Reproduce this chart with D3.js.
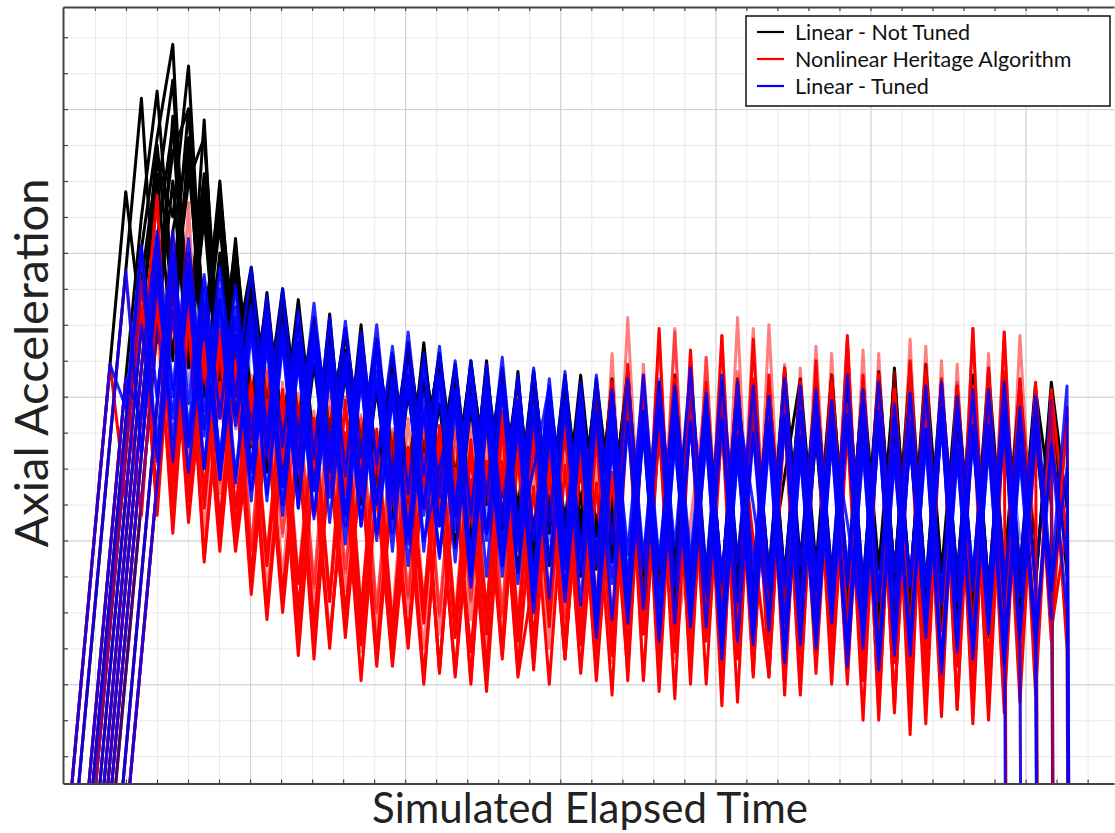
<!DOCTYPE html>
<html><head><meta charset="utf-8">
<script src="https://cdn.jsdelivr.net/npm/d3@7"></script>
<style>
html,body{margin:0;padding:0;background:#fff;}
svg{display:block;}
</style></head>
<body>
<svg id="chart" width="1115" height="833"></svg>
<script>
// ---------- data (values in tenths of a grid division; samples every sampleDt) ----------
const sampleT0 = -1.03, sampleDt = 0.5057;
const runStart = [0,1,1,1,2,2,2,2,3,3,3,4];

const blackRuns = [
[-135,-87,-39,9,57,20,70,25,65,14,52,6,33,-8,27,-11,20,-9,19,-16,15,-19,15,-17,12,-27,10,-24,7,-35,7,-33,3,-36,5,-32,7,-52,4,-48,7,-66,3,-51,0,-49,5,-70,4,-52,8,-54,6,-50,9,-55,2,-51,5,-53,3],
[-108,-60,-12,35,83,15,78,18,60,2,44,-10,29,-13,15,-20,12,-22,20,-25,12,-26,15,-29,3,-34,10,-37,7,-44,-2,-41,4,-45,5,-62,-1,-57,-3,-60,0,-58,-5,-61,-2,-56,-4,-62,1,-57,-3,-63,8,-60,-4,-64,-2,-59,-6,-62,-4],
[-139,-91,-43,5,50,85,30,80,20,57,12,36,-2,30,-6,22,-10,19,-14,14,-15,14,-18,12,-22,8,-26,2,-31,7,-34,3,-30,2,-33,7,-50,4,-47,7,-51,3,-46,0,-50,-22,5,-47,6,-52,4,-48,5,-53,9,-49,3,-52,7,-48,4,-53],
[-151,-103,-55,-7,41,72,98,12,77,-2,38,-14,20,-20,12,-21,23,-27,8,-24,4,-32,5,-29,0,-40,-4,-37,-5,-47,-2,-45,-8,-48,-4,-60,-3,-64,-3,-61,-8,-65,-4,-60,-7,-63,-3,-64,-9,-60,-6,-66,-5,-62,-10,-65,-7,-61,-4,-66,-9,-40,-999],
[-112,-64,-16,32,65,50,92,15,60,5,30,-8,25,-13,17,-16,13,-19,16,-23,12,-20,8,-31,5,-28,2,-39,4,-36,0,-40,1,-37,3,-56,0,-52,4,-55,-1,-53,3,-57,1,-52,5,-55,0,-58,2,-54,-2,-57,1,-55,3,-58,-1,-54,2,-30,-999],
[-125,-76,-28,20,62,10,72,0,40,-5,24,-21,18,-26,9,-23,6,-30,2,-34,1,-31,-2,-42,-3,-38,-6,-49,-6,-47,-10,-50,-7,-46,-5,-66,-10,-62,-6,-65,-9,-60,-4,-66,-7,-63,-11,-65,-5,-67,-8,-64,-12,-68,-6,-65,-9,-67,-8,-63,-12,-50],
[-137,-89,-40,8,56,88,22,62,8,42,0,26,-10,27,-13,18,-15,14,-18,10,-21,11,-19,9,-29,7,-27,5,-38,2,-35,6,-37,3,-54,2,-50,6,-53,1,-51,5,-55,3,-50,2,-54,6,-51,4,-56,0,-52,5,-57,1,-53,3,-55,0,-52,4,-31],
[-149,-101,-52,-4,44,75,10,55,3,36,-6,22,-16,15,-19,16,-20,11,-23,7,-28,4,-25,3,-36,0,-33,-1,-44,1,-40,-22,-4,-43,0,-60,0,-56,-4,-59,1,-57,-3,-61,0,-55,-5,-59,2,-57,-2,-62,-6,-58,-1,-61,-3,-59,-5,-62,-2,-58,-6],
[-113,-65,-16,32,68,80,18,54,11,34,-3,28,-8,21,-11,17,-12,16,-18,13,-15,11,-26,9,-23,8,-34,5,-31,6,-35,3,-32,5,-51,3,-47,6,-50,4,-48,2,-52,8,-46,4,-50,5,-53,7,-49,3,-52,4,-50,6,-54,2,-48,4],
[-125,-77,-29,19,60,8,50,-2,33,-12,18,-18,10,-22,9,-26,6,-24,2,-30,4,-31,0,-38,-3,-36,-4,-46,-7,-43,-2,-47,-6,-63,-3,-60,-7,-64,-2,-59,-6,-62,-4,-65,-8,-60,-3,-63,-5,-65,-9,-61,-4,-64,-6,-62,-10,-65,-5],
[-147,-99,-50,-2,46,70,12,48,0,28,-13,22,-17,15,-14,10,-21,13,-25,6,-22,9,-33,2,-30,5,-41,2,-38,-3,-42,1,-39,2,-58,-2,-54,3,-57,-1,-55,2,-59,-1,-54,1,-57,3,-60,0,-56,-4,-59,1,-57,-3,-60,0,-55,-4],
[-120,-72,-24,24,60,72,10,40,-4,25,-7,20,-14,17,-18,13,-16,10,-22,12,-20,6,-30,5,-28,4,-38,1,-36,2,-39,4,-55,1,-51,5,-54,2,-52,4,-56,2,-51,3,-55,5,-60,3,-57,-1,-53,2,-56,0,-54,3,-57,-1,-52,2,-50]
];

const redRuns = [
[-135,-87,-39,9,-28,25,-33,27,-35,10,-43,5,-55,-8,-60,-14,-68,-19,-64,-21,-75,-25,-70,-20,-76,-24,-71,-22,-73,-16,-76,-20,-72,-15,-77,2,-79,-4,-74,3,-80,-2,-75,1,-40,-78,-3,-81,2,-76,-2,-79,3,-86,-2,-82,4,-87,1,-80,-3,-999],
[-108,-60,-12,35,-15,45,-20,54,-28,20,-25,6,-44,4,-50,-4,-55,0,-58,-11,-62,-6,-57,-10,-61,-8,-60,-6,-62,-2,-58,-7,-63,0,-65,22,-60,15,-66,10,-61,17,-67,19,-62,9,-65,14,-60,16,-72,12,-68,16,-73,10,-71,19,-67,18,-72,-999],
[-139,-91,-43,5,-33,27,-38,22,-46,3,-43,-8,-62,-13,-72,-18,-68,-22,-79,-25,-75,-30,-80,-24,-78,-29,-82,-20,-76,-25,-80,-19,-77,-24,-83,-2,-79,-8,-84,-3,-80,-7,-85,-1,-78,-6,-83,-4,-80,-9,-90,-2,-86,-6,-91,0,-87,-5,-90,-3,-85,-8,-999],
[-151,-103,-55,-7,41,-19,36,-24,21,-34,15,-46,2,-50,-4,-58,-9,-54,-11,-65,-15,-60,-10,-66,-14,-62,-12,-66,-5,-61,-10,-67,-6,-63,12,-69,6,-64,18,-70,11,-66,22,-71,20,-65,8,-68,12,-70,13,-76,7,-72,14,-77,9,-73,12,-75,17,-60,-999],
[-112,-64,-16,32,-30,30,-26,13,-40,9,-52,-1,-57,-12,-73,-15,-67,-18,-72,-22,-68,-17,-76,-21,-80,-19,-70,-13,-74,-18,-69,-12,-73,4,-72,-1,-77,5,-70,0,-86,3,-75,-2,-78,4,-73,1,-77,5,-90,0,-94,6,-79,2,-91,4,-83,1,-78,-5,-999],
[-125,-76,-28,20,-17,40,-12,24,-27,21,-42,8,-38,-2,-52,2,-48,-5,-59,-9,-55,-4,-60,-8,-56,-6,-60,0,-56,-4,-61,1,-57,3,-63,9,-58,6,-64,1,-60,7,-65,4,-59,2,-63,6,-62,4,-70,2,-66,9,-71,3,-67,8,-70,5,-64,-20],
[-137,-89,-40,8,56,-31,25,-45,4,-40,-6,-59,-11,-66,-20,-70,-16,-69,-27,-73,-22,-78,-26,-77,-23,-76,-18,-78,-50,-22,-73,-17,-79,-21,-77,0,-82,-5,-76,-1,-81,-4,-78,1,-83,-2,-77,-6,-80,0,-88,-1,-84,-4,-89,2,-85,-3,-88,0,-83,-4,-70,-999],
[-149,-101,-52,-4,44,-25,34,-31,15,-36,0,-47,-2,-60,-6,-56,-10,-64,-13,-68,-17,-63,-12,-67,-16,-66,-8,-68,-12,-64,-7,-69,-11,-72,9,-66,19,-71,13,-68,17,-73,16,-67,8,-72,10,-70,15,-78,6,-74,10,-79,5,-75,19,-78,18,-72,4,-65,-35],
[-113,-65,-16,32,-21,40,-27,18,-31,4,-45,2,-52,-7,-57,-1,-60,-9,-64,-14,-58,-8,-63,-12,-60,-4,-64,-8,-60,-3,-65,-7,-67,6,-62,1,-68,4,-64,0,-66,5,-69,2,-63,4,-67,17,-71,2,-88,6,-74,1,-73,3,-88,7,-70,0,-68,-3,-999],
[-125,-77,-29,19,-32,28,-38,12,-42,-3,-54,-8,-63,-13,-67,-18,-71,-20,-74,-25,-70,-19,-77,-23,-71,-15,-75,-19,-70,-14,-76,-18,-74,3,-79,-2,-73,-35,2,-78,-1,-75,4,-80,-3,-74,1,-77,3,-85,1,-81,-3,-86,2,-82,-4,-85,0],
[-147,-99,-50,-2,46,-18,26,-24,21,-43,7,-39,1,-53,-3,-49,-6,-60,-10,-56,-5,-61,-9,-57,-7,-61,-1,-57,-5,-62,0,-58,2,-64,6,-60,19,-65,11,-61,5,-66,2,-63,0,-60,3,-64,3,-71,2,-67,6,-72,4,-66,1,-70,2,-40],
[-120,-72,-24,24,-29,15,-35,10,-50,-4,-55,-10,-64,-14,-60,-17,-71,-21,-67,-16,-77,-20,-79,-18,-72,-12,-68,-16,-73,-11,-69,1,-75,5,-71,0,-76,4,-72,2,-77,6,-70,1,-74,4,-76,6,-82,2,-78,7,-83,3,-79,8,-81,5,-77,2,-40,-999]
];

const blueRuns = [
[-135,-87,-39,9,-3,42,0,40,-2,34,-6,31,-12,28,-14,24,-17,22,-22,18,-19,14,-27,12,-28,10,-33,9,-35,6,-40,5,-41,4,-47,2,-44,6,-48,3,-46,1,-52,4,-49,0,-53,3,-51,-1,-48,2,-55,-2,-52,3,-56,0,-50,2,-48,-999],
[-108,-60,-12,35,-16,36,-12,30,-20,27,-22,20,-27,16,-31,15,-28,11,-36,7,-38,5,-43,2,-46,0,-50,3,-52,-4,-56,-1,-58,-5,-62,-8,-59,-3,-63,-7,-64,-6,-68,-10,-65,-5,-69,-9,-63,-7,-70,-8,-72,-11,-67,-6,-71,-10,-66,-5,-70,-999],
[-139,-91,-43,5,-6,38,0,35,-9,30,-5,25,-15,20,-17,19,-21,12,-24,16,-27,9,-31,6,-33,7,-38,2,-40,-20,3,-44,-1,-45,0,-50,-4,-46,1,-49,-2,-51,-3,-55,-8,-50,-4,-54,-7,-53,-2,-57,-6,-53,-9,-58,-4,-54,-8,-56,-3,-52,-999],
[-151,-103,-55,-7,41,-18,30,-14,21,-23,17,-26,15,-30,10,-33,6,-36,5,-40,0,-41,-4,-45,-3,-50,-7,-47,-8,-57,-11,-54,-10,-64,-14,-60,-9,-66,-13,-61,-12,-70,-17,-65,-13,-71,-16,-66,-12,-69,-15,-73,-18,-68,-13,-74,-17,-69,-14,-72,-15,-66,-999],
[-112,-64,-16,32,-1,39,3,33,-6,28,-9,25,-13,22,-14,19,-21,17,-18,12,-27,9,-24,8,-34,6,-31,5,-39,2,-36,1,-46,-2,-42,3,-45,-1,-43,-1,-50,-5,-47,0,-52,-4,-48,-1,-51,-3,-54,-6,-50,-1,-55,-5,-49,-2,-53,-6,-51,-1,-999],
[-125,-76,-28,20,-13,36,-9,30,-18,25,-20,23,-25,18,-26,14,-33,13,-30,6,-39,9,-36,2,-45,5,-42,-1,-51,2,-48,-2,-59,0,-55,-5,-58,-1,-56,-4,-64,-2,-30,-61,-7,-65,-3,-60,-6,-66,-4,-68,-7,-63,-3,-69,-8,-64,-4,-67,-5,-62],
[-137,-89,-40,8,46,2,44,-4,36,0,36,-10,30,-12,26,-15,21,-17,20,-24,18,-22,14,-31,10,-28,11,-37,8,-35,7,-44,6,-41,5,-45,4,-42,8,-49,6,-46,3,-50,5,-47,2,-49,6,-52,4,-49,1,-53,4,-50,2,-54,4,-48,0,-50,3,-999],
[-149,-101,-52,-4,44,-18,33,-20,24,-24,18,-29,15,-31,13,-35,8,-36,5,-43,4,-40,-20,0,-50,1,-47,-3,-56,-3,-54,-7,-63,-6,-60,-10,-65,-7,-61,-5,-69,-11,-66,-8,-71,-12,-67,-9,-70,-7,-72,-13,-69,-9,-74,-12,-70,-8,-73,-10,-68,-14,-60],
[-113,-65,-16,32,-6,37,-11,27,-8,21,-17,18,-22,16,-19,9,-28,11,-30,3,-33,6,-37,0,-40,3,-43,0,-46,-3,-49,-4,-52,-7,-48,-2,-53,-8,-54,-7,-57,-11,-53,-6,-58,-10,-55,-5,-59,-8,-56,-12,-61,-7,-57,-11,-60,-6,-55,-9,-54,-20,-999],
[-125,-77,-29,19,-4,40,-6,34,-9,26,-12,24,-19,21,-16,18,-25,15,-27,13,-30,10,-36,8,-34,7,-42,6,-40,4,-47,3,-50,0,-46,5,-49,1,-55,0,-51,-3,-54,2,-52,-2,-56,0,-55,-4,-58,1,-53,-3,-57,0,-54,-1,-40],
[-147,-99,-50,-2,46,-13,26,-17,22,-21,19,-25,14,-26,11,-33,9,-30,4,-38,1,-36,2,-45,-2,-42,-3,-52,-6,-48,-5,-59,-9,-55,-4,-58,-8,-56,-9,-64,-12,-60,-7,-63,-11,-61,-8,-35,-65,-10,-66,-13,-63,-8,-67,-12,-62,-9,-66,-12],
[-120,-72,-24,24,-21,22,-23,17,-29,15,-33,10,-34,7,-41,5,-38,0,-47,-3,-44,-2,-53,-6,-50,-7,-60,-9,-57,-10,-67,-13,-63,-8,-68,-12,-64,-11,-73,-15,-69,-10,-74,-16,-70,-12,-75,-13,-76,-16,-72,-11,-77,-15,-73,-12,-75,-17,-70,-13,-45,-999]
];

const blackOpacity = [1,1,1,1,1,1,1,1,1,1,1,1];
const redOpacity   = [1,0.5,1,0.5,1,0.5,1,1,1,0.5,0.5,1];
const blueOpacity  = [0.85,0.85,0.85,0.85,0.45,0.85,0.85,0.85,0.85,0.45,0.85,0.85];

const seriesNames  = ["Linear - Not Tuned", "Nonlinear Heritage Algorithm", "Linear - Tuned"];
const seriesColors = ["#000000", "#ff0000", "#0000ff"];

const xMinorTicks = [0,1,2,3,4,5,6,7,8,9,10,11,12,13,14,15,16,17,18,19,20,21,22,23,24,25,26,27,28,29,30,31,32];
const xMajorTicks = [5,10,15,20,25,30];
const yMinorTicks = [-100,-90,-80,-70,-60,-50,-40,-30,-20,-10,0,10,20,30,40,50,60,70,80,90,100];
const yMajorTicks = [-80,-40,0,40,80];

const xTitle = "Simulated Elapsed Time";
const yTitle = "Axial Acceleration";

// ---------- layout ----------
const Wsvg = 1115, Hsvg = 833;
const margin = {left: 63, top: 7, right: 1, bottom: 49.5};
const W = Wsvg - margin.left - margin.right;
const H = Hsvg - margin.top - margin.bottom;

const svg = d3.select("#chart");
svg.append("rect").attr("width", Wsvg).attr("height", Hsvg).attr("fill", "#fff");

const x = d3.scaleLinear().domain([-1.03, 32.85]).range([0, W]);
const y = d3.scaleLinear().domain([-107.6, 108.4]).range([H, 0]);

const g = svg.append("g").attr("transform", `translate(${margin.left},${margin.top})`);

// grid
function grid(axis, cls, color, tr) {
  const gg = g.append("g").attr("class", cls).attr("transform", tr || null).call(axis);
  gg.select(".domain").remove();
  gg.selectAll(".tick line").attr("stroke", color).attr("stroke-width", 1);
}
grid(d3.axisBottom(x).tickValues(xMinorTicks).tickSize(-H).tickFormat(""), "gx", "#e9e9e9", `translate(0,${H})`);
grid(d3.axisLeft(y).tickValues(yMinorTicks).tickSize(-W).tickFormat(""), "gy", "#e9e9e9");
grid(d3.axisBottom(x).tickValues(xMajorTicks).tickSize(-H).tickFormat(""), "gxM", "#d0d0d0", `translate(0,${H})`);
grid(d3.axisLeft(y).tickValues(yMajorTicks).tickSize(-W).tickFormat(""), "gyM", "#d0d0d0");

// lines
svg.append("defs").append("clipPath").attr("id", "plotclip")
  .append("rect").attr("x", 0).attr("y", 0).attr("width", W).attr("height", H);

const line = d3.line().x(d => x(d.t)).y(d => y(d.v));
const plot = g.append("g").attr("clip-path", "url(#plotclip)");

function drawSeries(runs, color, opac, cls) {
  const data = runs.map((vals, r) => ({
    r, pts: vals.map((v, k) => ({t: sampleT0 + (runStart[r] + k) * sampleDt, v}))
  }));
  plot.append("g").attr("class", cls).selectAll("path").data(data).join("path")
    .attr("d", d => line(d.pts))
    .attr("fill", "none")
    .attr("stroke", color)
    .attr("stroke-opacity", d => opac[d.r])
    .attr("stroke-width", 3)
    .attr("stroke-linejoin", "round");
}
drawSeries(blackRuns, seriesColors[0], blackOpacity, "black-series");
drawSeries(redRuns, seriesColors[1], redOpacity, "red-series");
drawSeries(blueRuns, seriesColors[2], blueOpacity, "blue-series");

// axes (frame + small inward ticks, no labels)
const axColor = "#444";
function frame(axis, tr) {
  const a = g.append("g").attr("transform", tr || null).call(axis);
  a.select(".domain").attr("stroke", axColor).attr("stroke-width", 2);
  a.selectAll(".tick line").attr("stroke", axColor).attr("stroke-width", 1.2);
  a.selectAll(".tick text").remove();
}
frame(d3.axisBottom(x).tickValues(xMinorTicks).tickSize(-4).tickSizeOuter(0).tickFormat(""), `translate(0,${H})`);
frame(d3.axisTop(x).tickValues(xMinorTicks).tickSize(-4).tickSizeOuter(0).tickFormat(""));
frame(d3.axisLeft(y).tickValues(yMinorTicks).tickSize(-5).tickSizeOuter(0).tickFormat(""));

// axis titles
const font = "Lato, 'Open Sans', sans-serif";
svg.append("text")
  .attr("x", 590).attr("y", 823)
  .attr("text-anchor", "middle")
  .attr("font-family", font).attr("font-size", 42)
  .attr("fill", "#222")
  .text(xTitle);
svg.append("text")
  .attr("transform", "translate(48,363) rotate(-90)")
  .attr("text-anchor", "middle")
  .attr("font-family", font).attr("font-size", 47)
  .attr("fill", "#222")
  .text(yTitle);

// legend
const lg = svg.append("g").attr("transform", "translate(746,16)");
lg.append("rect").attr("width", 364).attr("height", 90)
  .attr("fill", "#fff").attr("stroke", "#111").attr("stroke-width", 1.5);
const rows = lg.selectAll("g.row").data(seriesNames).join("g").attr("class", "row")
  .attr("transform", (d, i) => `translate(0,${16 + i * 27})`);
rows.append("line").attr("x1", 11).attr("x2", 38).attr("y1", 0).attr("y2", 0)
  .attr("stroke", (d, i) => seriesColors[i]).attr("stroke-width", 2.2);
rows.append("text").attr("x", 49).attr("y", 0).attr("dy", "0.35em")
  .attr("font-family", font).attr("font-size", 21.5).attr("fill", "#111")
  .text(d => d);
</script>
</body></html>
